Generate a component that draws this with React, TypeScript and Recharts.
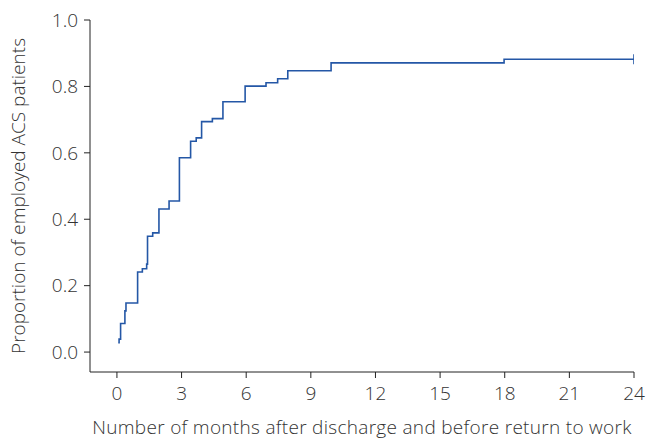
import React from 'react';
import { LineChart, Line, XAxis, YAxis } from 'recharts';

// Kaplan-Meier style step curve: months vs proportion returned to work
const months = [
  0.06, 0.1, 0.17, 0.37, 0.42, 0.96, 1.18, 1.38, 1.42, 1.66, 1.95, 2.42, 2.9,
  3.42, 3.68, 3.93, 4.43, 4.92, 5.95, 6.92, 7.46, 7.93, 9.94, 17.97, 24,
];
const proportion = [
  0.028, 0.039, 0.086, 0.124, 0.148, 0.241, 0.251, 0.265, 0.349, 0.359, 0.431,
  0.455, 0.585, 0.635, 0.645, 0.694, 0.703, 0.754, 0.801, 0.811, 0.823, 0.847,
  0.871, 0.882, 0.882,
];
const xTicks = [0, 3, 6, 9, 12, 15, 18, 21, 24];
const yTicks = [0, 0.2, 0.4, 0.6, 0.8, 1.0];

const data = months.map((t, i) => ({ t, s: proportion[i] }));

const FONT = '"Open Sans", Lato, sans-serif';
const LINE = '#2457a6';

const CensorMark = (props: any) => {
  const { cx, cy, index } = props;
  if (index !== data.length - 1) return <g key={`d-${index}`} />;
  return (
    <g key={`d-${index}`}>
      <line x1={cx} x2={cx} y1={cy - 5} y2={cy + 5} stroke={LINE} strokeWidth={1.6} />
    </g>
  );
};

export default function App() {
  return (
    <div style={{ position: 'absolute', left: 0, top: 0, width: 649, height: 440, background: '#fff' }}>
      <LineChart
        width={649}
        height={440}
        data={data}
        margin={{ top: 20, right: 15, bottom: 0, left: 0 }}
      >
        <XAxis
          type="number"
          dataKey="t"
          domain={[-1.25, 24]}
          ticks={xTicks}
          allowDataOverflow
          height={68}
          tickSize={6}
          tickMargin={9}
          stroke="#222"
          tick={{ fill: '#333', fontSize: 19, fontFamily: FONT, fontWeight: 300 }}
          label={{
            value: 'Number of months after discharge and before return to work',
            position: 'insideBottom',
            offset: 6,
            style: { fill: '#333', fontSize: 19, fontFamily: FONT, fontWeight: 300, letterSpacing: 0.3 },
          }}
        />
        <YAxis
          type="number"
          domain={[-0.06, 1.0]}
          ticks={yTicks}
          allowDataOverflow
          width={90}
          tickSize={6}
          tickMargin={6}
          stroke="#222"
          tickFormatter={(v: number) => v.toFixed(1)}
          tick={{ fill: '#333', fontSize: 19, fontFamily: FONT, fontWeight: 300 }}
          label={{
            value: 'Proportion of employed ACS patients',
            angle: -90,
            position: 'insideLeft',
            offset: 18,
            style: { fill: '#333', fontSize: 19, fontFamily: FONT, fontWeight: 300, textAnchor: 'middle' },
          }}
        />
        <Line
          type="stepAfter"
          dataKey="s"
          stroke={LINE}
          strokeWidth={1.6}
          dot={CensorMark}
          activeDot={false}
          isAnimationActive={false}
        />
      </LineChart>
    </div>
  );
}
